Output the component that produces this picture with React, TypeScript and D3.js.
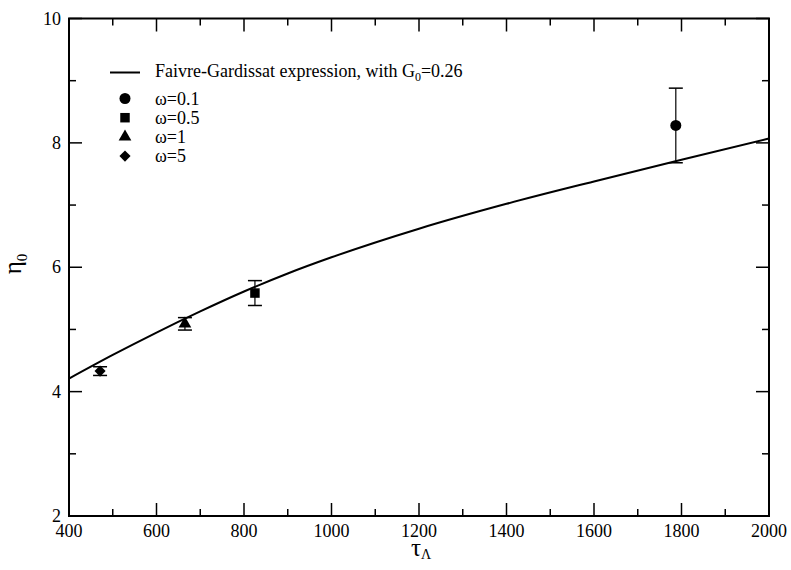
import React from "react";
import * as d3 from "d3";

// Faivre-Gardissat curve
const curveTau = [400, 500, 600, 700, 800, 900, 1000, 1200, 1400, 1600, 1800, 2000];
const curveEta = [4.21, 4.59, 4.95, 5.29, 5.61, 5.9, 6.16, 6.62, 7.02, 7.38, 7.73, 8.07];

// data points
const seriesLabels = ["ω=0.1", "ω=0.5", "ω=1", "ω=5"];
const seriesTau = [1787, 825, 665, 471];
const seriesEta = [8.28, 5.585, 5.09, 4.33];
const seriesErr = [0.6, 0.2, 0.1, 0.07];
const seriesShape = ["circle", "square", "triangle", "diamond"];

const xTicks = [400, 600, 800, 1000, 1200, 1400, 1600, 1800, 2000];
const yTicks = [2, 4, 6, 8, 10];

const W = 791, H = 570;

function symbolPath(shape: string) {
  const t =
    shape === "circle" ? d3.symbolCircle :
    shape === "triangle" ? d3.symbolTriangle : d3.symbolSquare;
  const size = shape === "circle" ? 95 : shape === "square" ? 90 : shape === "triangle" ? 70 : 62;
  return d3.symbol().type(t).size(size)()!;
}

export default function App() {
  const x = d3.scaleLinear().domain([400, 2000]).range([69, 769]);
  const y = d3.scaleLinear().domain([2, 10]).range([516, 18.5]);
  const font = "'Liberation Serif', 'Times New Roman', Times, serif";

  const line = d3
    .line<number>()
    .x((_, i) => x(curveTau[i]))
    .y((d) => y(d))
    .curve(d3.curveMonotoneX);

  const xMinor = d3.range(500, 2000, 200);
  const yMinor = d3.range(3, 10, 2);
  const maj = 13, mnr = 7;

  const sym = (shape: string, cx: number, cy: number) => (
    <path
      d={symbolPath(shape)}
      transform={`translate(${cx},${cy})${shape === "diamond" ? " rotate(45)" : ""}`}
      fill="#000"
    />
  );

  return (
    <svg width={W} height={H} style={{ position: "absolute", left: 0, top: 0, background: "#fff" }}>
      <rect x={0} y={0} width={W} height={H} fill="#fff" />
      {/* frame */}
      <rect x={x(400)} y={y(10)} width={x(2000) - x(400)} height={y(2) - y(10)} fill="none" stroke="#000" strokeWidth={2} />
      {xTicks.map((t) => (
        <g key={"xt" + t}>
          <line x1={x(t)} x2={x(t)} y1={y(2)} y2={y(2) - maj} stroke="#000" strokeWidth={1.5} />
          <line x1={x(t)} x2={x(t)} y1={y(10)} y2={y(10) + maj} stroke="#000" strokeWidth={1.5} />
          <text x={x(t)} y={537} textAnchor="middle" fontFamily={font} fontSize={18}>{t}</text>
        </g>
      ))}
      {xMinor.map((t) => (
        <g key={"xm" + t}>
          <line x1={x(t)} x2={x(t)} y1={y(2)} y2={y(2) - mnr} stroke="#000" strokeWidth={1.5} />
          <line x1={x(t)} x2={x(t)} y1={y(10)} y2={y(10) + mnr} stroke="#000" strokeWidth={1.5} />
        </g>
      ))}
      {yTicks.map((t) => (
        <g key={"yt" + t}>
          <line x1={x(400)} x2={x(400) + maj} y1={y(t)} y2={y(t)} stroke="#000" strokeWidth={1.5} />
          <line x1={x(2000)} x2={x(2000) - maj} y1={y(t)} y2={y(t)} stroke="#000" strokeWidth={1.5} />
          <text x={61} y={y(t) + 6} textAnchor="end" fontFamily={font} fontSize={18}>{t}</text>
        </g>
      ))}
      {yMinor.map((t) => (
        <g key={"ym" + t}>
          <line x1={x(400)} x2={x(400) + mnr} y1={y(t)} y2={y(t)} stroke="#000" strokeWidth={1.5} />
          <line x1={x(2000)} x2={x(2000) - mnr} y1={y(t)} y2={y(t)} stroke="#000" strokeWidth={1.5} />
        </g>
      ))}
      {/* axis titles */}
      <text x={421} y={556} textAnchor="middle" fontFamily={font} fontSize={25}>
        τ<tspan fontSize={14} dy={3}>Λ</tspan>
      </text>
      <text transform={`translate(21,${264}) rotate(-90)`} textAnchor="middle" fontFamily={font} fontSize={25}>
        η<tspan fontSize={15} dy={6}>0</tspan>
      </text>
      {/* curve */}
      <path d={line(curveEta)!} fill="none" stroke="#000" strokeWidth={2} />
      {/* data with error bars */}
      {seriesTau.map((t, i) => {
        const cx = x(t);
        const e = seriesErr[i];
        const y0 = y(seriesEta[i] - e), y1 = y(seriesEta[i] + e);
        return (
          <g key={"p" + i}>
            <line x1={cx} x2={cx} y1={y0} y2={y1} stroke="#000" strokeWidth={1.2} />
            <line x1={cx - 7} x2={cx + 7} y1={y0} y2={y0} stroke="#000" strokeWidth={1.5} />
            <line x1={cx - 7} x2={cx + 7} y1={y1} y2={y1} stroke="#000" strokeWidth={1.5} />
            {sym(seriesShape[i], cx, y(seriesEta[i]))}
          </g>
        );
      })}
      {/* legend */}
      <line x1={110} x2={140} y1={72.5} y2={72.5} stroke="#000" strokeWidth={2} />
      <text x={155} y={77} fontFamily={font} fontSize={18}>
        Faivre-Gardissat expression, with G<tspan fontSize={12} dy={4}>0</tspan><tspan dy={-4}>=0.26</tspan>
      </text>
      {seriesLabels.map((lab, i) => {
        const ly = 98.5 + i * 19.2;
        return (
          <g key={"lg" + i}>
            {sym(seriesShape[i], 125, ly)}
            <text x={155} y={ly + 6} fontFamily={font} fontSize={18}>{lab}</text>
          </g>
        );
      })}
    </svg>
  );
}
